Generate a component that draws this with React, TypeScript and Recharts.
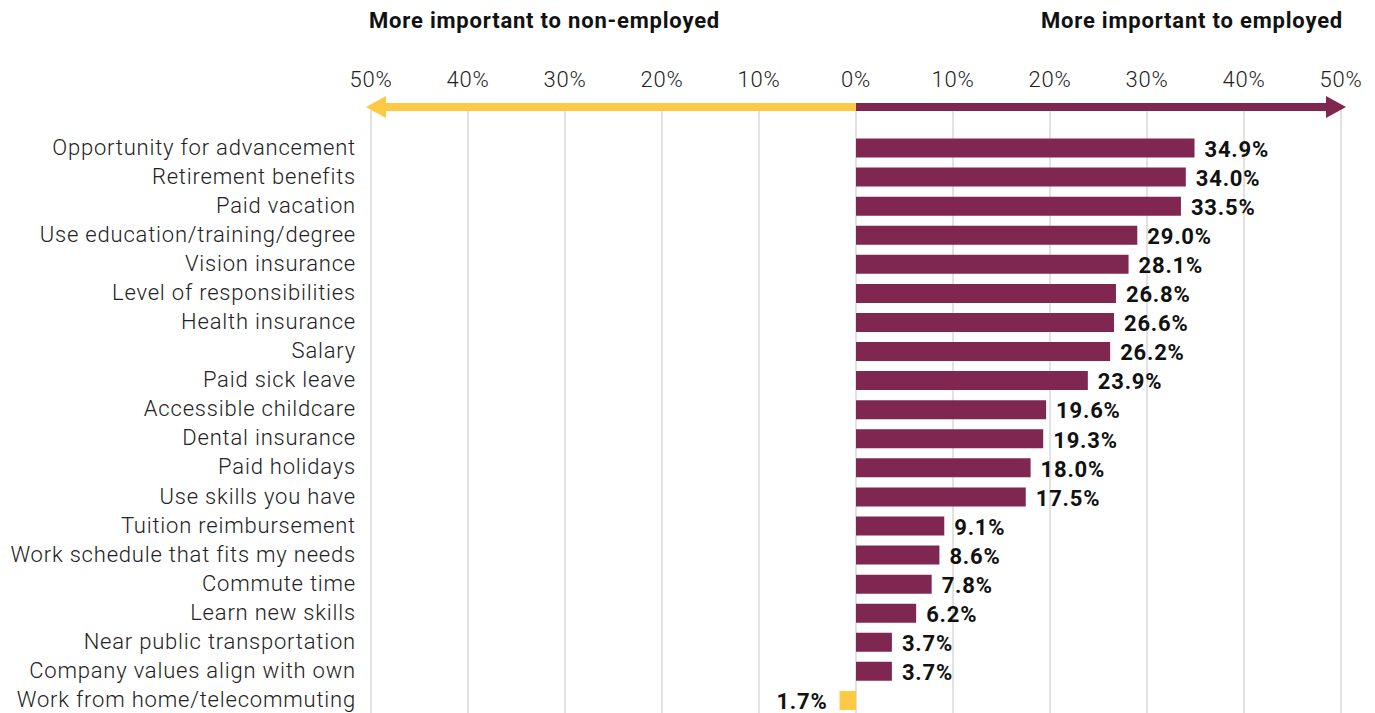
import { BarChart, Bar, XAxis, YAxis, CartesianGrid, Cell, LabelList, ReferenceArea } from 'recharts';

const categories = [
  'Opportunity for advancement',
  'Retirement benefits',
  'Paid vacation',
  'Use education/training/degree',
  'Vision insurance',
  'Level of responsibilities',
  'Health insurance',
  'Salary',
  'Paid sick leave',
  'Accessible childcare',
  'Dental insurance',
  'Paid holidays',
  'Use skills you have',
  'Tuition reimbursement',
  'Work schedule that fits my needs',
  'Commute time',
  'Learn new skills',
  'Near public transportation',
  'Company values align with own',
  'Work from home/telecommuting',
];

// positive = more important to employed, negative = more important to non-employed
const differences = [
  34.9, 34.0, 33.5, 29.0, 28.1, 26.8, 26.6, 26.2, 23.9, 19.6,
  19.3, 18.0, 17.5, 9.1, 8.6, 7.8, 6.2, 3.7, 3.7, -1.7,
];

const xTicks = [-50, -40, -30, -20, -10, 0, 10, 20, 30, 40, 50];

const leftHeader = 'More important to non-employed';
const rightHeader = 'More important to employed';

const data = categories.map((label, i) => ({ label, value: differences[i] }));

const MAROON = '#7F2651';
const YELLOW = '#FFC845';
const FONT = 'Roboto, "Noto Sans", sans-serif';
const FS = 22;
const LS = 0.8;
const PAD_TOP = 26.5;

const formatPct = (v: number) => `${Math.abs(v).toFixed(1)}%`;

function CategoryTick(props: any) {
  const { x, y, payload } = props;
  return (
    <text x={x} y={y} dy="0.3em" textAnchor="end" fill="#222" fontSize={FS} letterSpacing={LS} fontFamily={FONT} fontWeight={300}>
      {payload.value}
    </text>
  );
}

function ValueLabel(props: any) {
  const { x, y, width, height, value } = props;
  const left = Math.min(x, x + width);
  const right = Math.max(x, x + width);
  const positive = value >= 0;
  return (
    <text
      x={positive ? right + 10 : left - 12}
      y={y + height / 2}
      dy="0.4em"
      textAnchor={positive ? 'start' : 'end'}
      fill="#111"
      fontSize={FS}
      letterSpacing={LS}
      fontWeight={700}
      fontFamily={FONT}
    >
      {formatPct(value)}
    </text>
  );
}

// draws one half of the direction arrow plus its header, using the area's x extent
function makeArrow(color: string, dir: 'left' | 'right', header: string) {
  return (props: any) => {
    const { x, y, width } = props;
    const cy = y - PAD_TOP;
    const thick = 8;
    const headLen = 20;
    const headHalf = 11;
    const headerY = cy - 79;
    if (dir === 'right') {
      const tip = x + width + 5;
      return (
        <g>
          <rect x={x} y={cy - thick / 2} width={tip - headLen - x} height={thick} fill={color} />
          <polygon points={`${tip},${cy} ${tip - headLen},${cy - headHalf} ${tip - headLen},${cy + headHalf}`} fill={color} />
          <text x={x + width + 2} y={headerY} textAnchor="end" fontSize={FS} letterSpacing={LS} fontWeight={700} fontFamily={FONT} fill="#111">
            {header}
          </text>
        </g>
      );
    }
    const tip = x - 5;
    return (
      <g>
        <rect x={tip + headLen} y={cy - thick / 2} width={x + width - tip - headLen} height={thick} fill={color} />
        <polygon points={`${tip},${cy} ${tip + headLen},${cy - headHalf} ${tip + headLen},${cy + headHalf}`} fill={color} />
        <text x={x - 2} y={headerY} textAnchor="start" fontSize={FS} letterSpacing={LS} fontWeight={700} fontFamily={FONT} fill="#111">
          {header}
        </text>
      </g>
    );
  };
}

export default function App() {
  return (
    <div style={{ position: 'fixed', left: 0, top: 0, width: 1375, height: 713, overflow: 'hidden', background: '#fff' }}>
      <BarChart
        width={1375}
        height={715}
        data={data}
        layout="vertical"
        margin={{ top: 77, right: 34, bottom: 0, left: 0 }}
      >
        <CartesianGrid horizontal={false} stroke="#cfcfcf" strokeWidth={1.2} />
        <XAxis
          type="number"
          orientation="top"
          height={30}
          domain={[-50, 50]}
          ticks={xTicks}
          tickFormatter={(v: number) => `${Math.abs(v)}%`}
          axisLine={false}
          tickLine={false}
          tickSize={0}
          tickMargin={20}
          tick={{ fill: '#222', fontSize: FS, fontFamily: FONT, fontWeight: 300, letterSpacing: LS }}
          interval={0}
        />
        <YAxis
          type="category"
          dataKey="label"
          width={371}
          axisLine={false}
          tickLine={false}
          tickSize={0}
          tickMargin={15}
          interval={0}
          padding={{ top: PAD_TOP, bottom: 0 }}
          tick={<CategoryTick />}
        />
        <ReferenceArea x1={-50} x2={0} ifOverflow="visible" shape={makeArrow(YELLOW, 'left', leftHeader)} />
        <ReferenceArea x1={0} x2={50} ifOverflow="visible" shape={makeArrow(MAROON, 'right', rightHeader)} />
        <Bar dataKey="value" barSize={19} isAnimationActive={false}>
          {data.map((d, i) => (
            <Cell key={i} fill={d.value >= 0 ? MAROON : YELLOW} />
          ))}
          <LabelList dataKey="value" content={<ValueLabel />} />
        </Bar>
      </BarChart>
    </div>
  );
}
